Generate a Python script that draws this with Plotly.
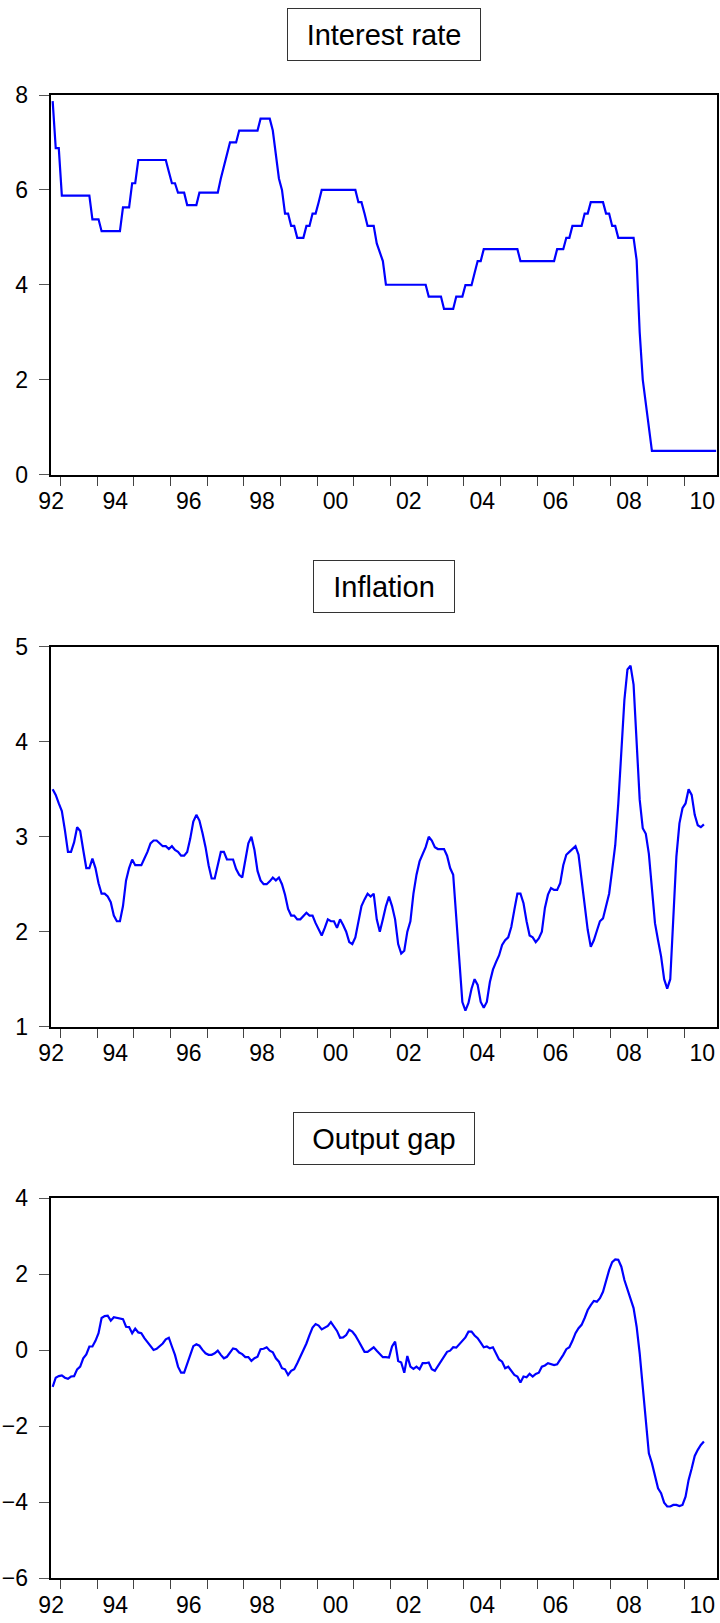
import plotly.graph_objects as go

# ---------------- data (monthly, first observation 1992M10) ----------------
START_YEAR = 1992
START_MONTH = 10

interest_rate = [
    7.87, 6.88, 6.88, 5.88, 5.88, 5.88, 5.88, 5.88, 5.88, 5.88, 5.88, 5.88,
    5.88, 5.38, 5.38, 5.38, 5.13, 5.13, 5.13, 5.13, 5.13, 5.13, 5.13, 5.63,
    5.63, 5.63, 6.14, 6.14, 6.63, 6.63, 6.63, 6.63, 6.63, 6.63, 6.63, 6.63,
    6.63, 6.63, 6.38, 6.14, 6.14, 5.94, 5.94, 5.94, 5.68, 5.68, 5.68, 5.68,
    5.94, 5.94, 5.94, 5.94, 5.94, 5.94, 5.94, 6.24, 6.50, 6.75, 7.00, 7.00,
    7.00, 7.25, 7.25, 7.25, 7.25, 7.25, 7.25, 7.25, 7.50, 7.50, 7.50, 7.50,
    7.25, 6.73, 6.24, 6.00, 5.50, 5.50, 5.24, 5.24, 4.99, 4.99, 4.99, 5.24,
    5.24, 5.50, 5.50, 5.74, 6.00, 6.00, 6.00, 6.00, 6.00, 6.00, 6.00, 6.00,
    6.00, 6.00, 6.00, 6.00, 5.74, 5.74, 5.50, 5.24, 5.24, 5.24, 4.87, 4.70,
    4.50, 4.00, 4.00, 4.00, 4.00, 4.00, 4.00, 4.00, 4.00, 4.00, 4.00, 4.00,
    4.00, 4.00, 4.00, 3.75, 3.75, 3.75, 3.75, 3.75, 3.49, 3.49, 3.49, 3.49,
    3.75, 3.75, 3.75, 3.99, 3.99, 3.99, 4.25, 4.50, 4.50, 4.75, 4.75, 4.75,
    4.75, 4.75, 4.75, 4.75, 4.75, 4.75, 4.75, 4.75, 4.75, 4.50, 4.50, 4.50,
    4.50, 4.50, 4.50, 4.50, 4.50, 4.50, 4.50, 4.50, 4.50, 4.75, 4.75, 4.75,
    4.99, 4.99, 5.24, 5.24, 5.24, 5.24, 5.50, 5.50, 5.74, 5.74, 5.74, 5.74,
    5.74, 5.50, 5.50, 5.24, 5.24, 4.99, 4.99, 4.99, 4.99, 4.99, 4.99, 4.52,
    3.00, 2.00, 1.50, 1.00, 0.50, 0.50, 0.50, 0.50, 0.50, 0.50, 0.50, 0.50,
    0.50, 0.50, 0.50, 0.50, 0.50, 0.50, 0.50, 0.50, 0.50, 0.50, 0.50, 0.50,
    0.50, 0.50,
]

inflation = [
    3.50, 3.44, 3.35, 3.27, 3.07, 2.84, 2.84, 2.94, 3.10, 3.06,
    2.86, 2.67, 2.67, 2.77, 2.67, 2.51, 2.40, 2.40, 2.37, 2.31,
    2.17, 2.11, 2.11, 2.27, 2.54, 2.67, 2.76, 2.70, 2.70, 2.70,
    2.77, 2.84, 2.93, 2.96, 2.96, 2.93, 2.90, 2.90, 2.87, 2.90,
    2.86, 2.84, 2.80, 2.80, 2.84, 2.98, 3.16, 3.23, 3.17, 3.04,
    2.89, 2.70, 2.56, 2.56, 2.72, 2.84, 2.84, 2.76, 2.76, 2.76,
    2.66, 2.60, 2.57, 2.74, 2.93, 3.00, 2.86, 2.64, 2.54, 2.50,
    2.50, 2.53, 2.57, 2.54, 2.57, 2.50, 2.39, 2.24, 2.17, 2.17,
    2.13, 2.13, 2.17, 2.20, 2.17, 2.17, 2.09, 2.02, 1.96, 2.04,
    2.13, 2.11, 2.11, 2.04, 2.13, 2.07, 2.00, 1.89, 1.87, 1.94,
    2.11, 2.27, 2.34, 2.40, 2.37, 2.40, 2.13, 2.00, 2.13, 2.27,
    2.37, 2.27, 2.13, 1.87, 1.77, 1.80, 2.00, 2.11, 2.40, 2.60,
    2.74, 2.81, 2.89, 3.00, 2.96, 2.89, 2.87, 2.87, 2.87, 2.80,
    2.67, 2.60, 2.14, 1.77, 1.26, 1.17, 1.25, 1.40, 1.50, 1.44,
    1.26, 1.20, 1.26, 1.47, 1.60, 1.68, 1.75, 1.86, 1.91, 1.94,
    2.05, 2.23, 2.40, 2.40, 2.30, 2.11, 1.96, 1.94, 1.89, 1.93,
    2.00, 2.25, 2.39, 2.46, 2.44, 2.44, 2.51, 2.70, 2.81, 2.84,
    2.87, 2.90, 2.81, 2.54, 2.23, 2.02, 1.84, 1.91, 2.01, 2.11,
    2.14, 2.26, 2.40, 2.65, 2.91, 3.35, 3.91, 4.44, 4.76, 4.80,
    4.60, 3.95, 3.39, 3.09, 3.03, 2.82, 2.47, 2.09, 1.91, 1.74,
    1.50, 1.40, 1.50, 2.09, 2.79, 3.14, 3.30, 3.35, 3.50, 3.44,
    3.23, 3.12, 3.10, 3.13,
]

output_gap = [
    -0.96, -0.72, -0.68, -0.66, -0.72, -0.75, -0.69, -0.68, -0.50, -0.43,
    -0.21, -0.11, 0.10, 0.10, 0.25, 0.45, 0.85, 0.90, 0.91, 0.78,
    0.87, 0.85, 0.84, 0.82, 0.62, 0.61, 0.45, 0.57, 0.47, 0.45,
    0.32, 0.21, 0.13, 0.01, 0.04, 0.10, 0.18, 0.29, 0.33, 0.10,
    -0.12, -0.43, -0.59, -0.59, -0.34, -0.08, 0.11, 0.16, 0.12, 0.01,
    -0.08, -0.12, -0.12, -0.08, -0.01, -0.12, -0.21, -0.17, -0.05, 0.05,
    0.03, -0.06, -0.10, -0.18, -0.18, -0.28, -0.21, -0.17, 0.03, 0.04,
    0.08, -0.01, -0.05, -0.21, -0.30, -0.47, -0.50, -0.65, -0.54, -0.50,
    -0.34, -0.18, 0.01, 0.18, 0.40, 0.60, 0.69, 0.65, 0.55, 0.59,
    0.64, 0.74, 0.62, 0.51, 0.33, 0.34, 0.40, 0.54, 0.49, 0.39,
    0.25, 0.10, -0.04, -0.04, 0.03, 0.08, -0.01, -0.10, -0.18, -0.18,
    -0.19, 0.10, 0.23, -0.28, -0.32, -0.59, -0.15, -0.43, -0.49, -0.43,
    -0.50, -0.34, -0.34, -0.32, -0.50, -0.54, -0.42, -0.30, -0.17, -0.04,
    -0.01, 0.08, 0.07, 0.16, 0.27, 0.34, 0.49, 0.49, 0.39, 0.32,
    0.20, 0.08, 0.10, 0.05, 0.08, -0.06, -0.24, -0.30, -0.47, -0.43,
    -0.54, -0.65, -0.69, -0.85, -0.69, -0.71, -0.62, -0.69, -0.62, -0.59,
    -0.43, -0.40, -0.34, -0.36, -0.39, -0.37, -0.25, -0.12, 0.03, 0.08,
    0.25, 0.45, 0.58, 0.67, 0.85, 1.06, 1.19, 1.30, 1.28, 1.37,
    1.54, 1.85, 2.11, 2.32, 2.39, 2.38, 2.20, 1.85, 1.59, 1.32,
    1.11, 0.62, -0.08, -0.96, -1.83, -2.71, -2.97, -3.32, -3.63, -3.76,
    -4.01, -4.11, -4.11, -4.07, -4.07, -4.10, -4.07, -3.85, -3.41, -3.11,
    -2.78, -2.62, -2.49, -2.40,
]

titles = ["Interest rate", "Inflation", "Output gap"]
year_labels = ["92", "94", "96", "98", "00", "02", "04", "06", "08", "10"]
label_years = [1992.75, 1994.5, 1996.5, 1998.5, 2000.5, 2002.5, 2004.5, 2006.5, 2008.5, 2010.5]
tick_years = list(range(1993, 2011))
y_ranges = [(0, 8, 2), (1, 5, 1), (-6, 4, 2)]


def month_axis(n):
    # decimal-year position of each monthly observation (mid-month)
    return [START_YEAR + (START_MONTH - 1 + k + 0.5) / 12.0 for k in range(n)]


# ---------------- layout geometry (pixels) ----------------
W, H = 720, 1623
FRAME_L, FRAME_R = 50.7, 717.3
panels_px = [(95.0, 474.5), (646.7, 1026.7), (1198.3, 1578.3)]
title_boxes = [  # (center_x, center_y, inner width, inner height)
    (384.0, 34.7, 192, 51),
    (384.2, 586.3, 140, 51),
    (384.2, 1138.0, 180, 51),
]
X_RANGE = [1992.738, 2010.907]
FONT = "Liberation Sans, Arial, sans-serif"
BLUE = "#0000FF"

fig = go.Figure()
series = [interest_rate, inflation, output_gap]
for k, vals in enumerate(series):
    suffix = "" if k == 0 else str(k + 1)
    fig.add_trace(go.Scatter(
        x=month_axis(len(vals)), y=vals, mode="lines",
        line=dict(color=BLUE, width=2.2),
        xaxis="x" + suffix, yaxis="y" + suffix,
        hoverinfo="skip", showlegend=False,
    ))

layout = dict(
    template="none",
    width=W, height=H,
    margin=dict(l=0, r=0, t=0, b=0, pad=0, autoexpand=False),
    paper_bgcolor="white", plot_bgcolor="white",
    showlegend=False,
    font=dict(family=FONT, color="black"),
)

for k, (top, bot) in enumerate(panels_px):
    suffix = "" if k == 0 else str(k + 1)
    y0, y1, dy = y_ranges[k]
    layout["xaxis" + suffix] = dict(
        domain=[FRAME_L / W, FRAME_R / W],
        anchor="y" + suffix,
        range=X_RANGE, automargin=False,
        showline=True, mirror=True, linecolor="black", linewidth=2,
        showgrid=False, zeroline=False,
        tickmode="array", tickvals=label_years, ticktext=year_labels,
        ticks="", ticklabelstandoff=5,
        tickfont=dict(family=FONT, size=23, color="black"),
        minor=dict(tickmode="array", tickvals=tick_years, ticks="outside",
                   ticklen=9, tickwidth=1, tickcolor="#444", showgrid=False),
        fixedrange=True,
    )
    layout["yaxis" + suffix] = dict(
        domain=[1 - bot / H, 1 - top / H],
        anchor="x" + suffix,
        range=[y0, y1], dtick=dy, tick0=y0, automargin=False,
        showline=True, mirror=True, linecolor="black", linewidth=2,
        showgrid=False, zeroline=False,
        ticks="outside", ticklen=10, tickwidth=1, tickcolor="#555",
        ticklabelstandoff=6,
        tickfont=dict(family=FONT, size=23, color="black"),
        fixedrange=True,
    )

annotations = []
for k, (cx, cy, bw, bh) in enumerate(title_boxes):
    annotations.append(dict(
        text=titles[k], xref="paper", yref="paper",
        x=cx / W, y=1 - cy / H, xanchor="center", yanchor="middle",
        showarrow=False, width=bw, height=bh, align="center", valign="middle",
        bordercolor="#333", borderwidth=1, borderpad=0, bgcolor="white",
        font=dict(family=FONT, size=29, color="black"),
    ))
layout["annotations"] = annotations

fig.update_layout(**layout)
fig.write_html(
    "out.html",
    config={"displayModeBar": False},
    post_script="document.body.style.margin='0';document.body.style.overflow='hidden';",
)
